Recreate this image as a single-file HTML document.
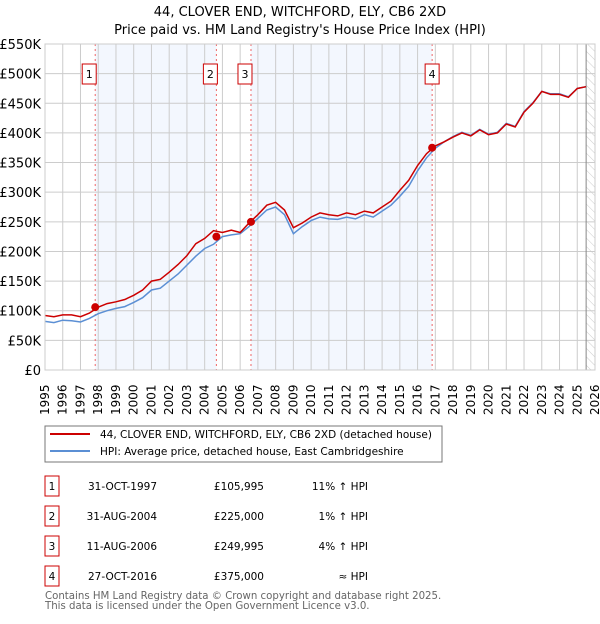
<!DOCTYPE html>
<html><head><meta charset="utf-8"><style>
body{margin:0;background:#fff;font-family:"DejaVu Sans","Liberation Sans",sans-serif;}
svg text{font-family:"DejaVu Sans","Liberation Sans",sans-serif;}
</style></head><body>
<svg id="c" width="600" height="620" xmlns="http://www.w3.org/2000/svg">
<defs><pattern id="hatch" width="6" height="6" patternUnits="userSpaceOnUse" patternTransform="rotate(-45)"><line x1="0" y1="0" x2="0" y2="6" stroke="#ccc" stroke-width="1"/></pattern></defs>
<text x="300" y="16" text-anchor="middle" font-size="13">44, CLOVER END, WITCHFORD, ELY, CB6 2XD</text>
<text x="300" y="34" text-anchor="middle" font-size="13">Price paid vs. HM Land Registry's House Price Index (HPI)</text>
<g id="plot"></g>
<g>
<rect x="45" y="426" width="397" height="36" fill="#fff" stroke="#777"/>
<line x1="50" y1="434" x2="90" y2="434" stroke="#cc0000" stroke-width="2"/>
<text x="100" y="438" font-size="10.5">44, CLOVER END, WITCHFORD, ELY, CB6 2XD (detached house)</text>
<line x1="50" y1="451" x2="90" y2="451" stroke="#5b8fd4" stroke-width="2"/>
<text x="100" y="455" font-size="10.5">HPI: Average price, detached house, East Cambridgeshire</text>
</g>
<g id="table" font-size="10.5"></g>
<text x="45" y="599" font-size="10.2" fill="#666">Contains HM Land Registry data © Crown copyright and database right 2025.</text>
<text x="45" y="609" font-size="10.2" fill="#666">This data is licensed under the Open Government Licence v3.0.</text>
</svg>
<script>
const years=[];for(let y=1995;y<=2026;y++)years.push(y);
const yTicks=[0,50,100,150,200,250,300,350,400,450,500,550];
const yTickLabels=["£0","£50K","£100K","£150K","£200K","£250K","£300K","£350K","£400K","£450K","£500K","£550K"];
const seriesStart=1995, seriesStep=0.5;
const propertySeries=[92,90,93,93,90,96,106,112,115,119,126,135,150,153,165,178,193,213,222,235,232,236,232,248,262,278,283,270,240,248,258,265,262,260,265,262,268,265,275,285,303,320,345,365,378,385,393,400,395,405,397,400,415,410,435,450,470,465,465,460,475,478];
const hpiSeries=[82,80,84,83,81,87,95,100,104,107,114,122,135,138,150,162,177,192,205,212,225,228,230,242,256,270,275,262,230,242,252,258,255,254,258,255,262,258,268,278,293,310,336,358,374,385,394,401,396,406,398,401,416,411,436,451,470,466,466,461,475,478];
const saleDates=[1997.83,2004.66,2006.61,2016.82];
const salePrices=[105.995,225,249.995,375];
const saleLabels=["1","2","3","4"];
const saleDateText=["31-OCT-1997","31-AUG-2004","11-AUG-2006","27-OCT-2016"];
const salePriceText=["£105,995","£225,000","£249,995","£375,000"];
const saleHpiText=["11% ↑ HPI","1% ↑ HPI","4% ↑ HPI","≈ HPI"];
const dataEnd=2025.5;

const X0=45,X1=595,Y0=370,Y1=44;
const xs=t=>X0+(t-1995)/(2026-1995)*(X1-X0);
const ys=v=>Y0-v/550*(Y0-Y1);
const NS="http://www.w3.org/2000/svg";
const plot=document.getElementById('plot');
function mk(tag,attrs,parent){const e=document.createElementNS(NS,tag);for(const k in attrs)e.setAttribute(k,attrs[k]);(parent||plot).appendChild(e);return e;}

let e;
e=mk('rect',{x:X0,y:Y1,width:X1-X0,height:Y0-Y1,fill:'#fff'});


e=mk('rect',{x:xs(saleDates[0]),y:Y1,width:xs(saleDates[1])-xs(saleDates[0]),height:Y0-Y1,fill:'#eef3fd',opacity:0.7});


e=mk('rect',{x:xs(saleDates[2]),y:Y1,width:xs(saleDates[3])-xs(saleDates[2]),height:Y0-Y1,fill:'#eef3fd',opacity:0.7});


e=mk('rect',{x:xs(dataEnd),y:Y1,width:X1-xs(dataEnd),height:Y0-Y1,fill:'url(#hatch)'});



yTicks.forEach((v,i)=>{
 e=mk('line',{x1:X0,x2:X1,y1:ys(v),y2:ys(v),stroke:'#ccc','stroke-width':1});
 
 
 e=mk('text',{x:X0-4,y:ys(v)+5,'text-anchor':'end','font-size':13});
 e.textContent=yTickLabels[i];
 
 
});
years.forEach(y=>{
 e=mk('line',{x1:xs(y),x2:xs(y),y1:Y1,y2:Y0,stroke:'#ccc','stroke-width':1});
 
 
 e=mk('text',{transform:`translate(${xs(y)+4},${Y0+45}) rotate(-90)`,'font-size':12});
 e.textContent=y;
 
 
});
e=mk('line',{x1:xs(dataEnd),x2:xs(dataEnd),y1:Y1,y2:Y0,stroke:'#888','stroke-width':1});



saleDates.forEach((d,i)=>{
 e=mk('line',{x1:xs(d),x2:xs(d),y1:Y1,y2:Y0,stroke:'#e66','stroke-width':1,'stroke-dasharray':'2,3'});
 
 
});

function path(arr){return arr.map((v,i)=>(i?'L':'M')+xs(seriesStart+i*seriesStep).toFixed(1)+','+ys(v).toFixed(1)).join('');}
e=mk('path',{d:path(hpiSeries),fill:'none',stroke:'#5b8fd4','stroke-width':1.5});


e=mk('path',{d:path(propertySeries),fill:'none',stroke:'#cc0000','stroke-width':1.5});



saleDates.forEach((d,i)=>{
 e=mk('circle',{cx:xs(d),cy:ys(salePrices[i]),r:4,fill:'#cc0000'});
 
 
 const bx=xs(d)-7-(i<3?6:0);
 e=mk('rect',{x:bx,y:64,width:14,height:20,fill:'#fff',stroke:'#cc0000','stroke-width':1});
 
 
 e=mk('text',{x:bx+7,y:78,'text-anchor':'middle','font-size':11});
 e.textContent=saleLabels[i];
 
 
});
e=mk('rect',{x:X0,y:Y1,width:X1-X0,height:Y0-Y1,fill:'none',stroke:'#ccc'});



const tbl=document.getElementById('table');
saleLabels.forEach((l,i)=>{
 const cy=486+i*30;
 e=mk('rect',{x:45,y:cy-10,width:14,height:20,fill:'#fff',stroke:'#cc0000'},tbl);
 
 
 e=mk('text',{x:52,y:cy+4,'text-anchor':'middle'},tbl);e.textContent=l;
 
 
 e=mk('text',{x:157,y:cy+4,'text-anchor':'end'},tbl);e.textContent=saleDateText[i];
 
 
 e=mk('text',{x:264,y:cy+4,'text-anchor':'end'},tbl);e.textContent=salePriceText[i];
 
 
 e=mk('text',{x:368,y:cy+4,'text-anchor':'end'},tbl);e.textContent=saleHpiText[i];
 
 
});
</script>
</body></html>
